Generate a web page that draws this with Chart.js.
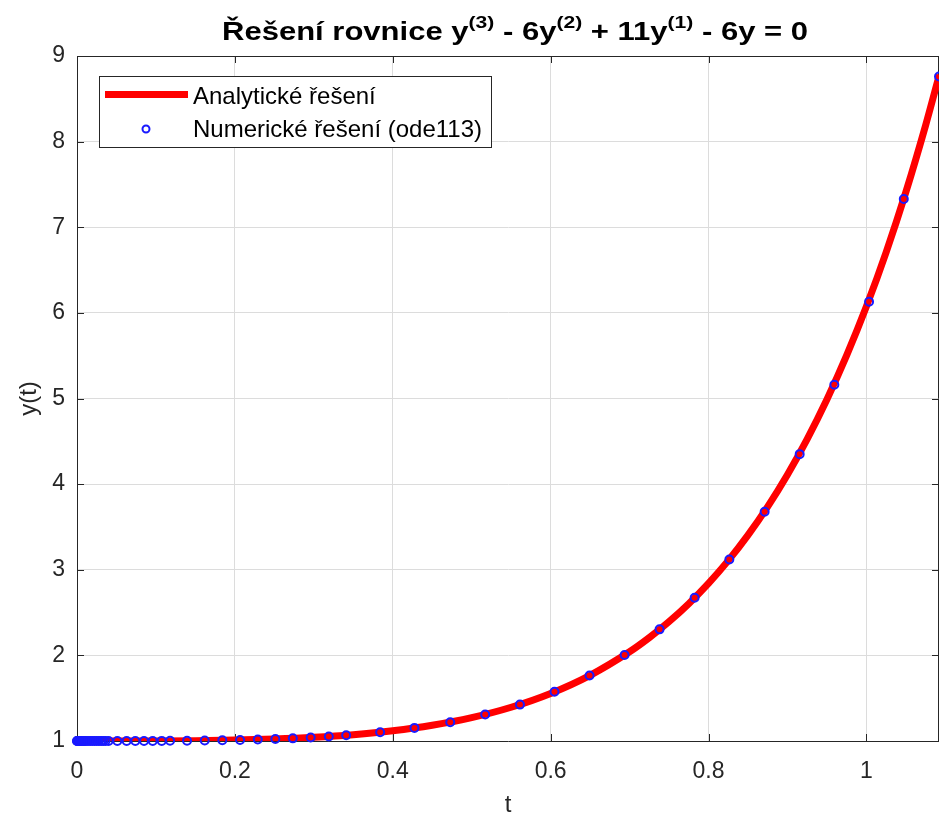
<!DOCTYPE html>
<html>
<head>
<meta charset="utf-8">
<script src="https://cdn.jsdelivr.net/npm/chart.js@4.4.1/dist/chart.umd.min.js"></script>
<style>
  html, body { margin: 0; padding: 0; background: #ffffff; overflow: hidden; }
  canvas { display: block; }
</style>
</head>
<body>
<canvas id="myChart" width="945" height="820"></canvas>
<script>
// analytic curve
const analyticT = [0, 0.05, 0.1, 0.15, 0.2, 0.25, 0.3, 0.35, 0.4, 0.45, 0.5, 0.55, 0.6, 0.65, 0.7, 0.725, 0.75, 0.775, 0.8, 0.825, 0.85, 0.875, 0.9, 0.925, 0.95, 0.975, 1.0, 1.025, 1.05, 1.075, 1.0925];
const analyticY = [1, 1.0001, 1.0012, 1.0042, 1.0109, 1.0229, 1.0428, 1.0736, 1.119, 1.1836, 1.273, 1.3942, 1.5557, 1.7674, 2.0418, 2.2072, 2.3937, 2.604, 2.8407, 3.1062, 3.4042, 3.7374, 4.1096, 4.5248, 4.9872, 5.5023, 6.0732, 6.7074, 7.4105, 8.189, 8.7828];

// ode113 steps (blue circles)
const numericT = [0, 0.0003, 0.0007, 0.0014, 0.0028, 0.0042, 0.0056, 0.0069, 0.0083, 0.0097, 0.0111, 0.0139, 0.0167, 0.0194, 0.0222, 0.025, 0.0278, 0.0306, 0.0333, 0.0361, 0.04,
  0.0511, 0.0629, 0.0739, 0.0849, 0.0959, 0.1073, 0.1179, 0.1394, 0.1618, 0.1841, 0.2066, 0.229, 0.2513, 0.2734, 0.296, 0.319, 0.341, 0.384,
  0.4275, 0.4728, 0.5171, 0.5611, 0.6049, 0.6493, 0.6937, 0.738, 0.7824, 0.8264, 0.8711, 0.9155, 0.9594, 1.0034, 1.0474, 1.092];
const numericY = [1, 1, 1, 1, 1, 1, 1, 1, 1, 1, 1, 1, 1, 1, 1, 1, 1, 1, 1, 1, 1.0001,
  1.0001, 1.0003, 1.0005, 1.0007, 1.001, 1.0014, 1.0019, 1.0031, 1.0049, 1.0081, 1.0122, 1.017, 1.0232, 1.031, 1.041, 1.053, 1.067, 1.102,
  1.153, 1.22, 1.309, 1.425, 1.575, 1.764, 2.005, 2.304, 2.673, 3.12, 3.677, 4.35, 5.16, 6.13, 7.33, 8.76];

const xTicks = [0, 0.2, 0.4, 0.6, 0.8, 1];
const yTicks = [1, 2, 3, 4, 5, 6, 7, 8, 9];
const seriesNames = ['Analytické řešení', 'Numerické řešení (ode113)'];
const titleParts = [
  { text: 'Řešení rovnice y', sup: false },
  { text: '(3)', sup: true },
  { text: ' - 6y', sup: false },
  { text: '(2)', sup: true },
  { text: ' + 11y', sup: false },
  { text: '(1)', sup: true },
  { text: ' - 6y = 0', sup: false }
];

const axisColor = '#262626';
const fontFam = '"Liberation Sans", Arial, Helvetica, sans-serif';

const analyticData = analyticT.map((t, i) => ({ x: t, y: analyticY[i] }));
const numericData = numericT.map((t, i) => ({ x: t, y: numericY[i] }));

// box around the axes + inward ticks (matlab style)
const boxPlugin = {
    id: 'boxPlugin',
    beforeDatasetsDraw(chart) {
        const ctx = chart.ctx;
        const a = chart.chartArea;
        const sx = chart.scales.x;
        const sy = chart.scales.y;
        ctx.save();
        ctx.strokeStyle = axisColor;
        ctx.lineWidth = 1;
        ctx.beginPath();
        ctx.moveTo(a.left, a.top + 0.5);
        ctx.lineTo(a.right, a.top + 0.5);
        ctx.moveTo(a.right - 0.5, a.top);
        ctx.lineTo(a.right - 0.5, a.bottom);
        xTicks.forEach(v => {
            const px = Math.round(sx.getPixelForValue(v)) + 0.5;
            ctx.moveTo(px, a.bottom);
            ctx.lineTo(px, a.bottom - 7);
            ctx.moveTo(px, a.top);
            ctx.lineTo(px, a.top + 7);
        });
        yTicks.forEach(v => {
            const py = Math.round(sy.getPixelForValue(v)) + 0.5;
            ctx.moveTo(a.left, py);
            ctx.lineTo(a.left + 7, py);
            ctx.moveTo(a.right, py);
            ctx.lineTo(a.right - 7, py);
        });
        ctx.stroke();
        ctx.restore();
    }
};

// title with superscripts
const titlePlugin = {
    id: 'titlePlugin',
    afterDraw(chart) {
        const ctx = chart.ctx;
        const mainFont = 'bold 25px ' + fontFam;
        const supFont = 'bold 17px ' + fontFam;
        ctx.save();
        let total = 0;
        titleParts.forEach(p => {
            ctx.font = p.sup ? supFont : mainFont;
            p.w = ctx.measureText(p.text).width;
            total += p.w;
        });
        // stretch a bit to match the width of the original title
        const k = 586 / total;
        ctx.translate(515 - 293, 0);
        ctx.scale(k, 1);
        let x = 0;
        ctx.fillStyle = '#000000';
        ctx.textBaseline = 'alphabetic';
        titleParts.forEach(p => {
            ctx.font = p.sup ? supFont : mainFont;
            ctx.fillText(p.text, x, p.sup ? 28 : 40);
            x += p.w;
        });
        ctx.restore();
    }
};

// legend box in the upper left corner
const legendPlugin = {
    id: 'legendPlugin',
    afterDraw(chart) {
        const ctx = chart.ctx;
        ctx.save();
        ctx.fillStyle = '#ffffff';
        ctx.fillRect(99.5, 76.5, 392, 71);
        ctx.strokeStyle = axisColor;
        ctx.lineWidth = 1;
        ctx.strokeRect(99.5, 76.5, 392, 71);

        ctx.strokeStyle = '#ff0000';
        ctx.lineWidth = 7;
        ctx.beginPath();
        ctx.moveTo(105, 94.5);
        ctx.lineTo(188, 94.5);
        ctx.stroke();

        ctx.strokeStyle = '#1a1aff';
        ctx.lineWidth = 2;
        ctx.beginPath();
        ctx.arc(146, 129, 3.5, 0, Math.PI * 2);
        ctx.stroke();

        ctx.fillStyle = '#000000';
        ctx.font = '24px ' + fontFam;
        ctx.textBaseline = 'middle';
        ctx.fillText(seriesNames[0], 193, 97);
        ctx.fillText(seriesNames[1], 193, 130);
        ctx.restore();
    }
};

const ctx = document.getElementById('myChart');

new Chart(ctx, {
    type: 'line',
    data: {
        datasets: [
            {
                label: seriesNames[1],
                data: numericData,
                showLine: false,
                pointStyle: 'circle',
                pointRadius: 4,
                pointBorderWidth: 2,
                pointBorderColor: '#1a1aff',
                pointBackgroundColor: 'rgba(0,0,0,0)',
                clip: false
            },
            {
                label: seriesNames[0],
                data: analyticData,
                borderColor: '#ff0000',
                borderWidth: 7,
                pointRadius: 0,
                fill: false,
                cubicInterpolationMode: 'monotone'
            }
        ]
    },
    options: {
        responsive: false,
        animation: false,
        layout: {
            padding: { top: 56, right: 0, left: 0, bottom: 0 }
        },
        plugins: {
            legend: { display: false },
            title: { display: false },
            tooltip: { enabled: false }
        },
        scales: {
            x: {
                type: 'linear',
                min: 0,
                max: 1.092,
                afterBuildTicks: s => { s.ticks = xTicks.map(v => ({ value: v })); },
                afterFit: s => { s.height = 79; },
                grid: { color: '#dcdcdc', lineWidth: 1, drawTicks: false },
                border: { display: true, color: axisColor, width: 1 },
                ticks: {
                    color: axisColor,
                    padding: 17,
                    maxRotation: 0,
                    font: { family: fontFam, size: 23 },
                    callback: v => String(v)
                },
                title: {
                    display: true,
                    text: 't',
                    color: axisColor,
                    padding: { top: 0, bottom: 0 },
                    font: { family: fontFam, size: 24 }
                }
            },
            y: {
                type: 'linear',
                min: 1,
                max: 9,
                afterBuildTicks: s => { s.ticks = yTicks.map(v => ({ value: v })); },
                afterFit: s => { s.width = 77; },
                grid: { color: '#dcdcdc', lineWidth: 1, drawTicks: false },
                border: { display: true, color: axisColor, width: 1 },
                ticks: {
                    color: axisColor,
                    padding: 12,
                    font: { family: fontFam, size: 23 },
                    callback: v => String(v)
                },
                title: {
                    display: true,
                    text: 'y(t)',
                    color: axisColor,
                    padding: { top: 15, bottom: 0 },
                    font: { family: fontFam, size: 24 }
                }
            }
        }
    },
    plugins: [boxPlugin, legendPlugin, titlePlugin]
});
</script>
</body>
</html>
